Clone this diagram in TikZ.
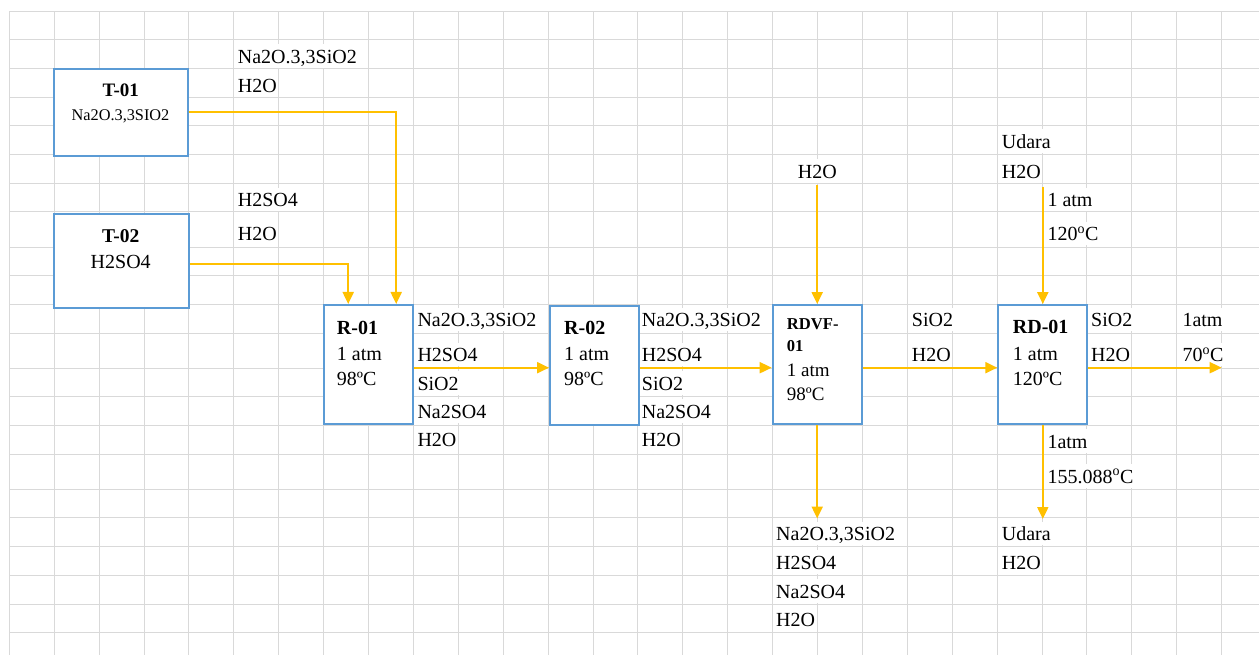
\documentclass[tikz,border=0pt]{standalone}
\usepackage{fontspec}
\setmainfont{Liberation Serif}
\usetikzlibrary{arrows.meta}
\definecolor{gridgray}{HTML}{D9D9D9}
\definecolor{boxblue}{HTML}{5B9BD5}
\definecolor{flowor}{HTML}{FFC000}
\newcommand{\fsz}[1]{\fontsize{#1}{#1}\selectfont}
\begin{document}
\begin{tikzpicture}[x=1pt,y=-1pt,
  gridline/.style={draw=gridgray,line width=1pt},
  unit/.style={draw=boxblue,line width=2pt,fill=white,inner sep=0pt},
  flow/.style={draw=flowor,line width=2pt,-{Triangle[width=11pt,length=12pt]}},
  lbl/.style={anchor=base west,inner xsep=0pt,inner ysep=1pt,fill=white,text height=18pt,text depth=3.5pt,font={\fsz{20}}},
  intxt/.style={anchor=base west,inner sep=0pt,font={\fsz{20}}},
  ctxt/.style={anchor=base,inner sep=0pt,font={\fsz{20}}},
]
\useasboundingbox (0,0) rectangle (1259,655);
\fill[white] (0,0) rectangle (1259,655);
% spreadsheet grid
\foreach \k in {0,...,27} \draw[gridline] ({9.3+44.9*\k},11.7) -- ({9.3+44.9*\k},655);
\foreach \yy in {11.7,40,68.7,97.3,126,155,183.3,212,247.3,276,304.3,333.3,368.3,396.7,425.7,454.3,489.3,517.7,546.7,575,604,632.7}
  \draw[gridline] (9.3,\yy) -- (1259,\yy);

% stream labels
\node[lbl] (lT1a) at (237.7,63.3) {Na2O.3,3SiO2};
\node[lbl] (lT1b) at (237.7,92.3) {H2O};
\node[lbl] (lT2a) at (237.7,206.7) {H2SO4};
\node[lbl] (lT2b) at (237.7,241) {H2O};
\node[lbl] (lA1) at (417.3,326.7) {Na2O.3,3SiO2};
\node[lbl] (lA2) at (417.3,361.7) {H2SO4};
\node[lbl] (lA3) at (417.3,390) {SiO2};
\node[lbl] (lA4) at (417.3,418.3) {Na2SO4};
\node[lbl] (lA5) at (417.3,446.7) {H2O};
\node[lbl] (lB1) at (641.7,326.7) {Na2O.3,3SiO2};
\node[lbl] (lB2) at (641.7,361.7) {H2SO4};
\node[lbl] (lB3) at (641.7,390) {SiO2};
\node[lbl] (lB4) at (641.7,418.3) {Na2SO4};
\node[lbl] (lB5) at (641.7,446.7) {H2O};
\node[lbl] (lW) at (797.7,178.3) {H2O};
\node[lbl] (lU1) at (1001.7,148.5) {Udara};
\node[lbl] (lU2) at (1001.7,178.3) {H2O};
\node[lbl] (lP1) at (1047.3,206.7) {1 atm};
\node[lbl] (lP2) at (1047.3,240.7) {120\textsuperscript{o}C};
\node[lbl] (lS1) at (911.7,326.7) {SiO2};
\node[lbl] (lS2) at (911.7,361.7) {H2O};
\node[lbl] (lR1) at (1091,326.7) {SiO2};
\node[lbl] (lR2) at (1091,361.7) {H2O};
\node[lbl] (lO1) at (1182.3,326.7) {1atm};
\node[lbl] (lO2) at (1182.3,361.7) {70\textsuperscript{o}C};
\node[lbl] (lQ1) at (1047.3,448.3) {1atm};
\node[lbl] (lQ2) at (1047.3,483.3) {155.088\textsuperscript{o}C};
\node[lbl] (lF1) at (776,540.7) {Na2O.3,3SiO2};
\node[lbl] (lF2) at (776,569) {H2SO4};
\node[lbl] (lF3) at (776,598.3) {Na2SO4};
\node[lbl] (lF4) at (776,626.7) {H2O};
\node[lbl] (lD1) at (1001.7,540.7) {Udara};
\node[lbl] (lD2) at (1001.7,569) {H2O};

% units
\node[unit,minimum width=133.4pt,minimum height=87pt] (T01) at (121,112.2) {};
\node[unit,minimum width=134.7pt,minimum height=93.7pt] (T02) at (121.3,260.8) {};
\node[unit,minimum width=89.3pt,minimum height=119pt] (R01) at (368.7,364.5) {};
\node[unit,minimum width=89.3pt,minimum height=119pt] (R02) at (594.7,365.5) {};
\node[unit,minimum width=89pt,minimum height=119.3pt] (RDVF) at (817.2,364.7) {};
\node[unit,minimum width=89pt,minimum height=119.3pt] (RD01) at (1042.8,364.7) {};

% unit texts
\node[ctxt,font={\fsz{19}\bfseries}] (tT1a) at (120.7,96.7) {T-01};
\node[ctxt,font={\fsz{16.3}}] (tT1b) at (120.5,120.7) {Na2O.3,3SIO2};
\node[ctxt,font={\fsz{19.5}\bfseries}] (tT2a) at (120.7,242.7) {T-02};
\node[ctxt] (tT2b) at (120.7,268.3) {H2SO4};
\node[intxt,font={\fsz{20}\bfseries}] (tR1a) at (336.7,334.3) {R-01};
\node[intxt] (tR1b) at (336.7,360.7) {1 atm};
\node[intxt] (tR1c) at (336.7,385) {98ºC};
\node[intxt,font={\fsz{20}\bfseries}] (tR2a) at (564,334.3) {R-02};
\node[intxt] (tR2b) at (564,360.7) {1 atm};
\node[intxt] (tR2c) at (564,385) {98ºC};
\node[intxt,font={\fsz{16.6}\bfseries}] (tV1) at (786.7,330) {RDVF-};
\node[intxt,font={\fsz{16.6}\bfseries}] (tV2) at (786.7,351) {01};
\node[intxt,font={\fsz{19}}] (tV3) at (786.7,376) {1 atm};
\node[intxt,font={\fsz{19}}] (tV4) at (786.7,400.7) {98ºC};
\node[intxt,font={\fsz{20}\bfseries}] (tD1) at (1012.7,333.3) {RD-01};
\node[intxt] (tD2) at (1012.7,360) {1 atm};
\node[intxt] (tD3) at (1012.7,385.7) {120ºC};

% connectors
\coordinate (h2oIn) at (817.2,185);
\coordinate (udIn) at (1042.8,186.7);
\coordinate (rdvfOut) at (817.2,518.5);
\coordinate (rdOut) at (1042.8,519);
\coordinate (prodOut) at (1221.7,367.7);
\coordinate (a1) at ([yshift=-3.2pt]R01.east);
\coordinate (a2) at ([yshift=-2.2pt]R02.east);
\coordinate (a3) at ([yshift=-3pt]RDVF.east);
\coordinate (a4) at ([yshift=-3pt]RD01.east);
\draw[flow] (T01.east) -| ([xshift=27.5pt]R01.north);
\draw[flow] ([yshift=-3.2pt]T02.east) -| ([xshift=-20.5pt]R01.north);
\draw[flow] (a1) -- (a1 -| R02.west);
\draw[flow] (a2) -- (a2 -| RDVF.west);
\draw[flow] (a3) -- (a3 -| RD01.west);
\draw[flow] (a4) -- (a4 -| prodOut);
\draw[flow] (h2oIn) -- (RDVF.north);
\draw[flow] (udIn) -- (RD01.north);
\draw[flow] (RDVF.south) -- (rdvfOut);
\draw[flow] (RD01.south) -- (rdOut);
\end{tikzpicture}
\end{document}
